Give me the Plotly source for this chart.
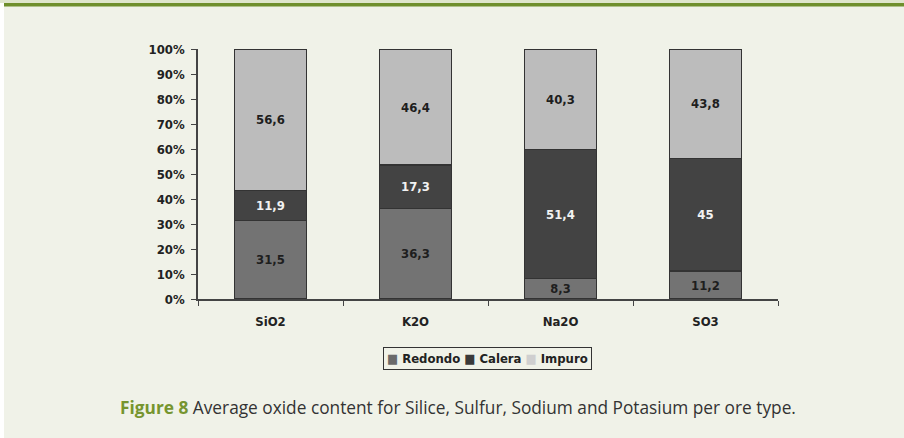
import plotly.graph_objects as go

categories = ["SiO2", "K2O", "Na2O", "SO3"]
redondo = [31.5, 36.3, 8.3, 11.2]
calera = [11.9, 17.3, 51.4, 45]
impuro = [56.6, 46.4, 40.3, 43.8]
series_names = ["Redondo", "Calera", "Impuro"]
y_ticks = [0, 10, 20, 30, 40, 50, 60, 70, 80, 90, 100]
y_tick_labels = [f"{v}%" for v in y_ticks]

def lab(vals):
    return [f"{v:g}".replace(".", ",") for v in vals]

W, H = 904, 438
L, R, T, B = 198, 126, 49, 139
pw, ph = W - L - R, H - T - B

def px_x(x):
    return (x - L) / pw

def px_y(y):
    return (H - B - y) / ph

lab_font = dict(family="DejaVu Sans Condensed", size=13, color="#222222", weight="bold")

colors = ["#737373", "#434343", "#bcbcbc"]
text_colors = ["#1e1e1e", "#f2f2f2", "#1e1e1e"]

fig = go.Figure()
for name, vals, col, tcol in zip(series_names, [redondo, calera, impuro], colors, text_colors):
    fig.add_trace(go.Bar(
        name=name, x=categories, y=vals, text=lab(vals),
        textposition="inside", insidetextanchor="middle",
        textfont=dict(family="DejaVu Sans Condensed", size=13, color=tcol, weight="bold"),
        marker=dict(color=col, line=dict(color="#333333", width=1.2)),
        width=0.5, cliponaxis=False, showlegend=False, hoverinfo="skip",
    ))

legend_text = " ".join(
    f"<span style='color:{c}'>■</span> {n}" for n, c in zip(series_names, ["#6a6a6a", "#3a3a3a", "#cfcfcf"])
)

fig.update_layout(
    barmode="stack",
    width=W, height=H,
    margin=dict(l=L, r=R, t=T, b=B),
    paper_bgcolor="#f0f2e8", plot_bgcolor="#f0f2e8",
    font=lab_font,
    showlegend=False,
    xaxis=dict(showline=True, linecolor="#444444", linewidth=1.5, ticks="outside",
               tickson="boundaries", ticklen=5, tickcolor="#444444", tickfont=lab_font,
               ticklabelstandoff=10, showgrid=False, zeroline=False),
    yaxis=dict(range=[0, 100], tickvals=y_ticks, ticktext=y_tick_labels, showline=True,
               linecolor="#444444", linewidth=1.5, ticks="outside", ticklen=5,
               tickcolor="#444444", tickfont=lab_font, ticklabelstandoff=4,
               showgrid=False, zeroline=False),
    shapes=[
        dict(type="rect", xref="paper", yref="paper", x0=px_x(0), x1=px_x(4), y0=px_y(H), y1=px_y(0),
             fillcolor="#ffffff", line=dict(width=0), layer="below"),
        dict(type="rect", xref="paper", yref="paper", x0=px_x(0), x1=px_x(W), y0=px_y(3), y1=px_y(0),
             fillcolor="#dfe6cc", line=dict(width=0), layer="below"),
        dict(type="rect", xref="paper", yref="paper", x0=px_x(4), x1=px_x(W), y0=px_y(6.5), y1=px_y(3),
             fillcolor="#6f8f2c", line=dict(width=0), layer="below"),
    ],
    annotations=[
        dict(xref="paper", yref="paper", x=px_x(487.5), y=px_y(358), xanchor="center", yanchor="middle",
             showarrow=False, text=legend_text, bordercolor="#333333", borderwidth=1, borderpad=3,
             font=dict(family="DejaVu Sans Condensed", size=13, color="#222222", weight="bold")),
        dict(xref="paper", yref="paper", x=px_x(457.5), y=px_y(407), xanchor="center", yanchor="middle",
             showarrow=False,
             text="<b><span style='color:#76952f'>Figure 8</span></b> Average oxide content for Silice, Sulfur, Sodium and Potasium per ore type.",
             font=dict(family="Open Sans", size=17.3, color="#333333", weight="normal")),
    ],
)

fig.write_html("out.html", config={"displayModeBar": False},
               post_script="document.body.style.margin='0';document.body.style.padding='0';")
